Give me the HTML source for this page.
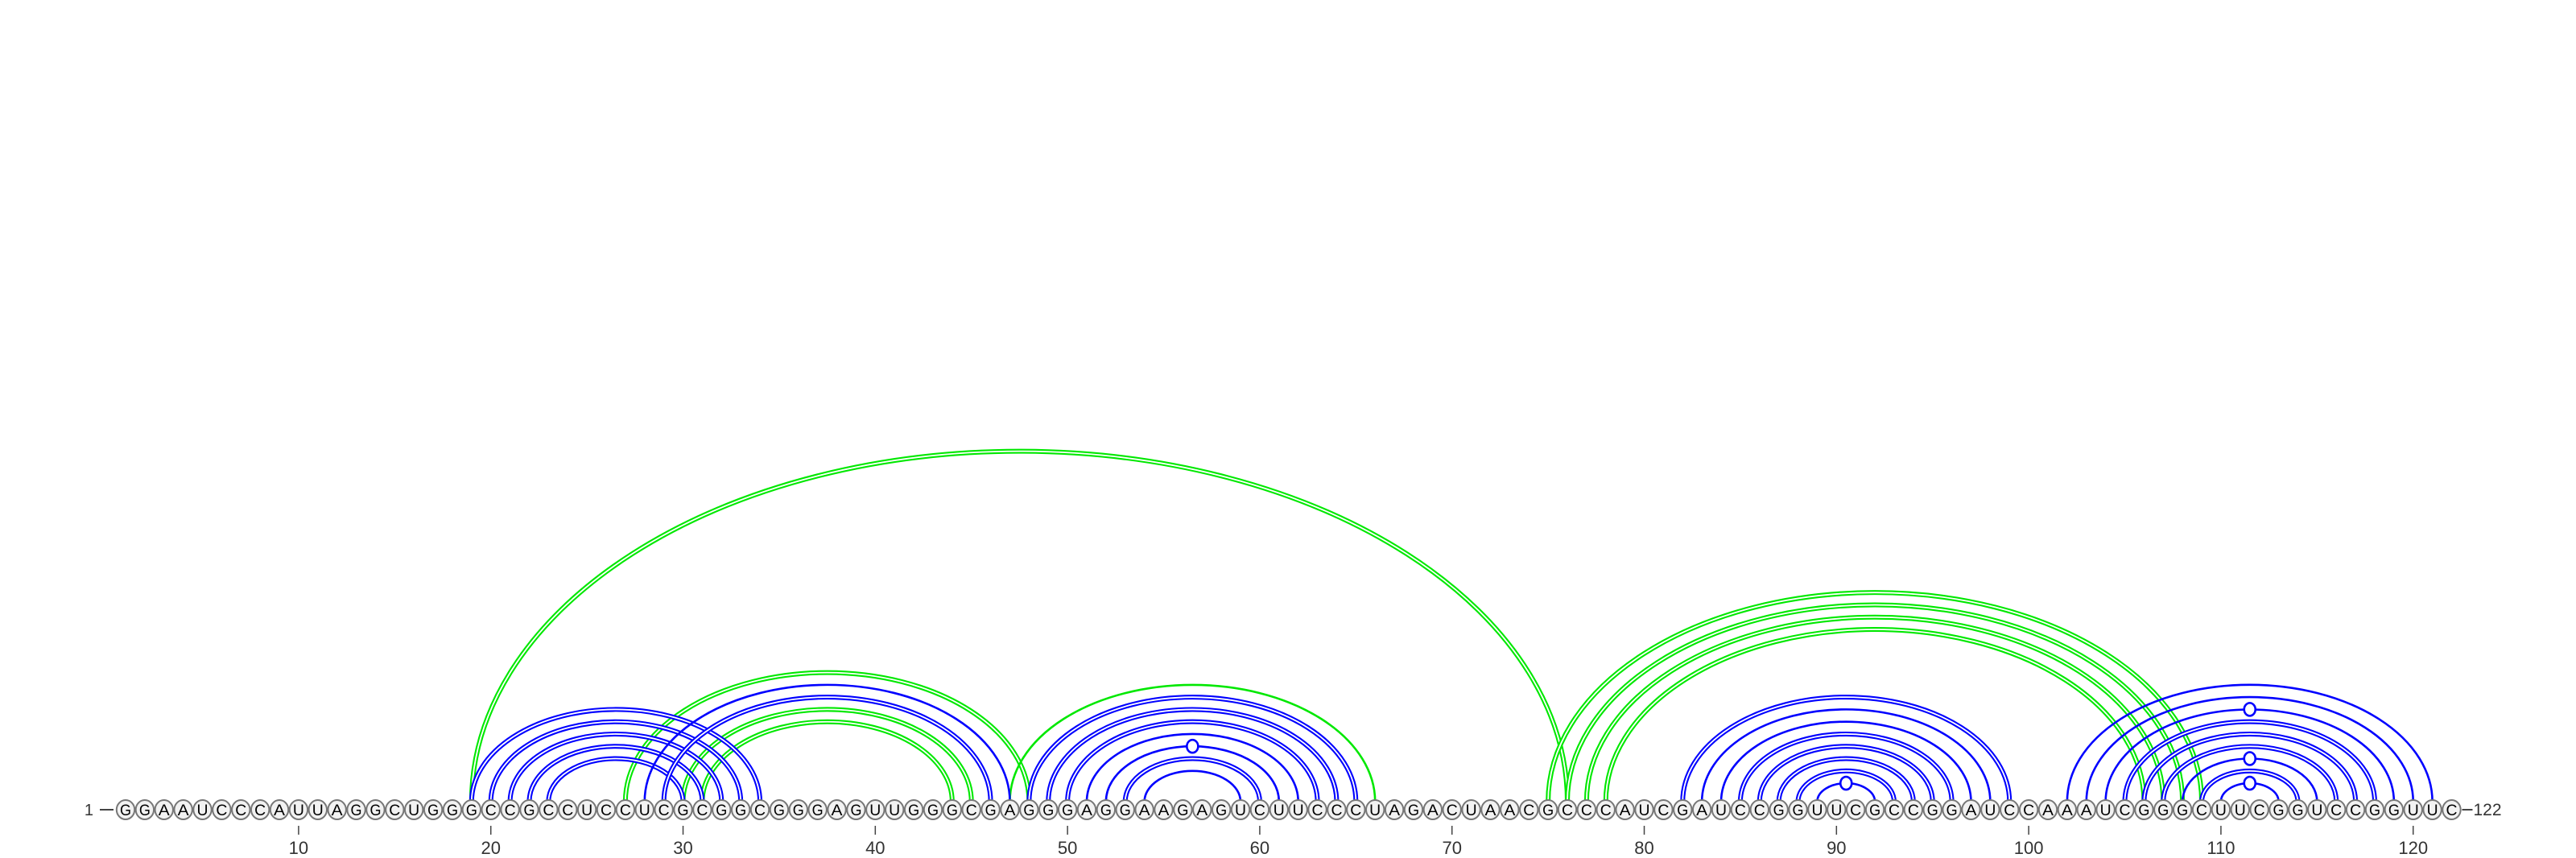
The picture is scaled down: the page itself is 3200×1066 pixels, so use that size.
<!DOCTYPE html>
<html><head><meta charset="utf-8"><style>
html,body{margin:0;padding:0;background:#fff;}
svg{display:block;}
</style></head><body>
<svg id="chart" width="3200" height="1066" viewBox="0 0 3200 1066" xmlns="http://www.w3.org/2000/svg">
<g id="arcs"></g>
<g id="markers"></g>
<g id="seq"></g>
<g id="axis"></g>
</svg>
<script>
const sequence = "GGAAUCCCAUUAGGCUGGGCCGCCUCCUCGCGGCGGGAGUUGGGCGAGGGAGGAAGAGUCUUCCCUAGACUAACGCCCAUCGAUCCGGUUCGCCGGAUCCAAAUCGGGCUUCGGUCCGGUUC";
const pairStart = [19,20,21,22,23, 27,28,29,30,31, 47, 48,49,50,51,52,53,54, 19, 75,76,77,78, 82,83,84,85,86,87,88,89, 102,103,104,105,106,107,108,109,110];
const pairEnd   = [34,33,32,31,30, 48,47,46,45,44, 66, 65,64,63,62,61,60,59, 76, 109,108,107,106, 99,98,97,96,95,94,93,92, 121,120,119,118,117,116,115,114,113];
const pairColor = ["b","b","b","b","b", "g","b","b","g","g", "g", "b","b","b","b","b","b","b", "g", "g","g","g","g", "b","b","b","b","b","b","b","b", "b","b","b","b","b","b","b","b","b"];
const pairDouble = [1,1,1,1,1, 1,0,1,1,1, 0, 1,1,1,0,0,1,0, 1, 1,1,1,1, 1,0,0,1,1,1,1,0, 0,0,0,1,1,1,0,1,0];
const pairMarker = [0,0,0,0,0, 0,0,0,0,0, 0, 0,0,0,0,1,0,0, 0, 0,0,0,0, 0,0,0,0,0,0,0,1, 0,0,1,0,0,0,1,0,1];
const tickValues = [10,20,30,40,50,60,70,80,90,100,110,120];

const NS = "http://www.w3.org/2000/svg";
const X0 = 156, STEP = 23.88, BASE = 996, CY = 1006, FLAT = 0.64;
function xPos(i){ return X0 + (i-1)*STEP; }
const colors = {b:"#0000ff", g:"#00e800"};
const arcs = document.getElementById("arcs");
const markers = document.getElementById("markers");
function mk(tag, attrs, parent){
  const e = document.createElementNS(NS, tag);
  for (const k in attrs) e.setAttribute(k, attrs[k]);
  parent.appendChild(e); return e;
}
const order = pairStart.map((_,k)=>k).sort((a,b)=> (pairColor[a]==="g"?0:1)-(pairColor[b]==="g"?0:1));
for (const k of order){
  const x1 = xPos(pairStart[k]), x2 = xPos(pairEnd[k]);
  const rx = (x2-x1)/2, ry = rx*FLAT;
  const d = `M ${x1} ${BASE} A ${rx} ${ry} 0 0 1 ${x2} ${BASE}`;
  const col = colors[pairColor[k]];
  const g = mk("g", {}, arcs);
  
  
  if (pairDouble[k]){
    mk("path", {d, fill:"none", stroke:col, "stroke-width":6}, g);
    mk("path", {d, fill:"none", stroke:"#fff", "stroke-width":1.8}, g);
  } else {
    mk("path", {d, fill:"none", stroke:col, "stroke-width":2.6}, g);
  }
  if (pairMarker[k]){
    const m = mk("ellipse", {cx:(x1+x2)/2, cy:BASE-ry, rx:7, ry:8, fill:"#fff", stroke:col, "stroke-width":2.6}, markers);
    
    
  }
}
const seq = document.getElementById("seq");
const ln1 = mk("line", {x1:124, y1:CY, x2:141, y2:CY, stroke:"#444", "stroke-width":2}, seq);


const t1 = mk("text", {x:116, y:CY+7, "font-size":20, "text-anchor":"end", fill:"#333", "font-family":"Liberation Sans, sans-serif"}, seq);
t1.textContent = "1";


const lastX = xPos(sequence.length);
const ln2 = mk("line", {x1:lastX+13, y1:CY, x2:lastX+26, y2:CY, stroke:"#444", "stroke-width":2}, seq);


const t2 = mk("text", {x:lastX+27, y:CY+7, "font-size":21, fill:"#333", "font-family":"Liberation Sans, sans-serif"}, seq);
t2.textContent = "122";


for (let i=1;i<=sequence.length;i++){
  const g = mk("g", {}, seq);
  
  
  mk("ellipse", {cx:xPos(i), cy:CY, rx:11.2, ry:12, fill:"#f2f2f2", stroke:"#777", "stroke-width":2}, g);
  const t = mk("text", {x:xPos(i), y:CY+7, "font-size":19, "text-anchor":"middle", fill:"#000", "font-family":"Liberation Sans, sans-serif", textLength:14, lengthAdjust:"spacingAndGlyphs"}, g);
  t.textContent = sequence[i-1];
}
const axis = document.getElementById("axis");
for (const v of tickValues){
  const g = mk("g", {}, axis);
  
  
  mk("line", {x1:xPos(v), y1:1026, x2:xPos(v), y2:1037, stroke:"#444", "stroke-width":1.5}, g);
  const t = mk("text", {x:xPos(v), y:1061, "font-size":22, "text-anchor":"middle", fill:"#333", "font-family":"Liberation Sans, sans-serif"}, g);
  t.textContent = v;
}
</script>
</body></html>
